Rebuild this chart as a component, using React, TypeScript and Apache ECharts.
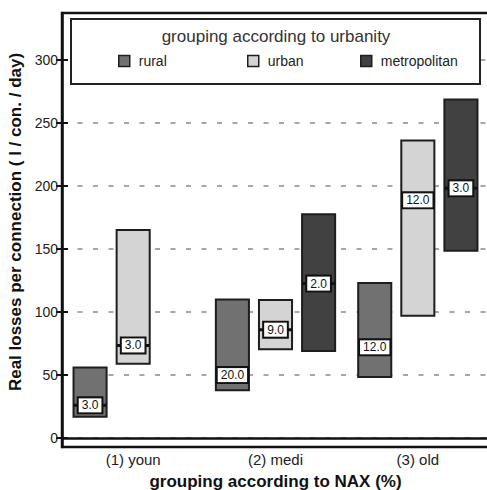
import React, { useEffect, useRef } from "react";
import * as echarts from "echarts";

const categories = ["(1) youn", "(2) medi", "(3) old"];
const groupNames = ["rural", "urban", "metropolitan"];
const groupColors = ["#717171", "#d4d4d4", "#414141"];

// floating bar ranges (low / high), median marker and its count label
const ruralLow = [17, 38, 48.5];
const ruralHigh = [56, 110, 123];
const ruralMid = [26, 50, 72];
const ruralN = ["3.0", "20.0", "12.0"];

const urbanLow = [59, 70.5, 97];
const urbanHigh = [165, 109.5, 236];
const urbanMid = [73.5, 86, 188.5];
const urbanN = ["3.0", "9.0", "12.0"];

const metroLow: (number | null)[] = [null, 69, 148.5];
const metroHigh: (number | null)[] = [null, 177.5, 268.5];
const metroMid: (number | null)[] = [null, 122.5, 198];
const metroN: (string | null)[] = [null, "2.0", "3.0"];

const yTicks = [0, 50, 100, 150, 200, 250, 300];

const FONT = "'Liberation Sans', Arial, sans-serif";

const lows = [ruralLow, urbanLow, metroLow];
const highs = [ruralHigh, urbanHigh, metroHigh];
const mids = [ruralMid, urbanMid, metroMid];
const counts = [ruralN, urbanN, metroN];

export default function App() {
  const ref = useRef<HTMLDivElement>(null);
  useEffect(() => {
    if (!ref.current) return;
    const chart = echarts.init(ref.current, undefined, { renderer: "svg" });

    const series = groupNames.map((name, g) => {
      const data: any[] = [];
      categories.forEach((_, i) => {
        const lo = lows[g][i];
        const hi = highs[g][i];
        const md = mids[g][i];
        if (lo == null || hi == null || md == null) return;
        data.push({ value: [i, lo, hi, md] });
      });
      return {
        type: "custom",
        name,
        xAxisIndex: 0,
        yAxisIndex: 0,
        itemStyle: { color: groupColors[g], borderColor: "#1e1e1e", borderWidth: 1.5 },
        encode: { x: 0, y: [1, 2, 3] },
        z: 5,
        data,
        renderItem: (params: any, api: any) => {
          const cat = api.value(0);
          const lo = api.value(1);
          const hi = api.value(2);
          const md = api.value(3);
          const band = api.size([1, 0])[0];
          const barW = band * 0.2324;
          const step = band * 0.3028;
          const cx = api.coord([cat, 0])[0] + (g - 1) * step;
          const yTop = api.coord([cat, hi])[1];
          const yBot = api.coord([cat, lo])[1];
          const yMid = api.coord([cat, md])[1];
          const lbl = counts[g][cat] as string;
          return {
            type: "group",
            children: [
              {
                type: "rect",
                shape: { x: cx - barW / 2, y: yTop, width: barW, height: yBot - yTop },
                style: { fill: groupColors[g], stroke: "#1e1e1e", lineWidth: 2 },
              },
              {
                type: "line",
                shape: { x1: cx - barW / 2, y1: yMid, x2: cx + barW / 2, y2: yMid },
                style: { stroke: "#111", lineWidth: 3 },
              },
              {
                type: "text",
                x: cx,
                y: yMid,
                style: {
                  text: lbl,
                  fontFamily: FONT,
                  fontSize: 12,
                  fill: "#111",
                  align: "center",
                  verticalAlign: "middle",
                  backgroundColor: "#fff",
                  borderColor: "#111",
                  borderWidth: 2,
                  padding: [1, 3, 1, 3],
                },
              },
            ],
          };
        },
      };
    });

    const legendLefts = [118, 247, 360];
    const legends = groupNames.map((name, g) => ({
      data: [name],
      left: legendLefts[g],
      top: 54,
      padding: 0,
      itemWidth: 11,
      itemHeight: 11,
      icon: "rect",
      z: 6,
      itemStyle: { borderColor: "#1e1e1e", borderWidth: 1.5 },
      textStyle: { fontFamily: FONT, fontSize: 14, color: "#222", padding: [0, 0, 0, 4] },
      selectedMode: false,
    }));

    chart.setOption({
      animation: false,
      grid: {
        left: 62,
        top: 13,
        width: 427,
        height: 434,
        outerBoundsMode: "none",
        containLabel: false,
        show: true,
        borderColor: "#111",
        borderWidth: 2.5,
        backgroundColor: "transparent",
      },
      legend: legends,
      xAxis: {
        type: "category",
        data: categories,
        axisTick: { show: false },
        axisLine: { show: true, lineStyle: { color: "#111", width: 2.5 } },
        axisLabel: { fontFamily: FONT, fontSize: 15, color: "#222", margin: 5 },
        splitLine: { show: false },
        name: "grouping according to NAX (%)",
        nameLocation: "middle",
        nameGap: 26,
        nameTextStyle: { fontFamily: FONT, fontSize: 17, fontWeight: "bold", color: "#111" },
      },
      yAxis: [
        {
          type: "value",
          min: -7,
          max: 337,
          position: "left",
          axisLine: { show: true, lineStyle: { color: "#111", width: 2.5 } },
          axisTick: {
            show: true,
            inside: false,
            length: 6,
            lineStyle: { color: "#111", width: 2 },
            customValues: yTicks,
          },
          axisLabel: {
            fontFamily: FONT,
            fontSize: 14,
            color: "#222",
            margin: 4,
            customValues: yTicks,
          },
          splitLine: {
            show: true,
            lineStyle: { color: "#8a8a8a", width: 1.5, type: [5, 10.5] },
          },
        },
        {
          type: "value",
          min: -7,
          max: 337,
          position: "left",
          axisLine: { show: false },
          axisTick: {
            show: true,
            inside: true,
            length: 6,
            lineStyle: { color: "#111", width: 2 },
            customValues: yTicks,
          },
          axisLabel: { show: false, customValues: yTicks },
          splitLine: { show: false },
        },
      ],
      graphic: [
        {
          type: "rect",
          z: 3,
          shape: { x: 71, y: 19, width: 409, height: 65 },
          style: { fill: "#fff", stroke: "#222", lineWidth: 2 },
        },
        {
          type: "text",
          z: 4,
          x: 276,
          y: 36,
          style: {
            text: "grouping according to urbanity",
            fontFamily: FONT,
            fontSize: 17,
            fill: "#333",
            align: "center",
            verticalAlign: "middle",
          },
        },
        {
          type: "text",
          z: 4,
          x: 15,
          y: 222,
          rotation: Math.PI / 2,
          style: {
            text: "Real losses per connection ( l / con. / day)",
            fontFamily: FONT,
            fontSize: 17,
            fontWeight: "bold",
            fill: "#111",
            align: "center",
            verticalAlign: "middle",
          },
        },
      ],
      series,
    });

    return () => chart.dispose();
  }, []);

  return (
    <div
      ref={ref}
      style={{ position: "absolute", left: 0, top: 0, width: 487, height: 490 }}
    />
  );
}
